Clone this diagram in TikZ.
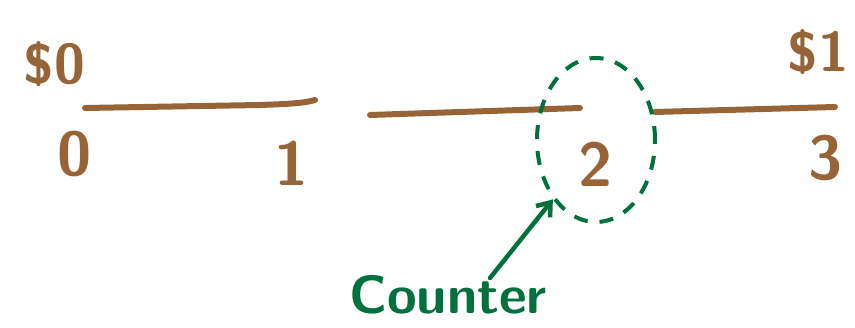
\documentclass[tikz,border=0pt]{standalone}
\usetikzlibrary{shapes.geometric,arrows.meta}
\definecolor{pen}{RGB}{150,100,55}
\definecolor{ink}{RGB}{0,112,60}
\tikzset{
  seg/.style={pen, line width=6pt, line cap=round},
  digit/.style={text=pen, font=\sffamily\bfseries\fontsize{62}{62}\selectfont, inner sep=0pt},
  money/.style={text=pen, font=\sffamily\bfseries\fontsize{56}{56}\selectfont, inner sep=0pt},
}
\begin{document}
\begin{tikzpicture}[x=1pt, y=-1pt]
\useasboundingbox (0,0) rectangle (855,328);

% Segmentos
\coordinate (a0) at (85,108);
\coordinate (a1) at (315,100);
\coordinate (b0) at (370,115);
\coordinate (b1) at (580,108);
\coordinate (c0) at (655,112);
\coordinate (c1) at (835,107);
\draw [seg] (a0) -- (260,105) .. controls (290,104) and (305,103) .. (a1);
\draw [seg] (b0) -- (b1);
\draw [seg] (c0) -- (c1);

% Etiquetas
\node [money] (m0) at (54,64) {\$0};
\node [money] (m1) at (818,52) {\$1};
\node [digit] (n0) at (75,154) {0};
\node [digit] (n1) at (292,163) {1};
\node [digit] (n2) at (596,164) {2};
\node [digit] (n3) at (826,158) {3};

% Contador
\node [draw=ink, dashed, dash pattern=on 14pt off 12pt, line width=4pt,
       ellipse, minimum width=118pt, minimum height=164pt] (ring) at (596,140) {};
\node [text=ink, font=\sffamily\bfseries\fontsize{54}{54}\selectfont, inner sep=0pt] (label) at (448,295) {Counter};
\coordinate (tail) at (490,278);
\draw [ink, line width=4.5pt, line cap=round, -{Straight Barb[length=12pt,width=18pt]}]
  (tail) -- (ring.south west);
\end{tikzpicture}
\end{document}
